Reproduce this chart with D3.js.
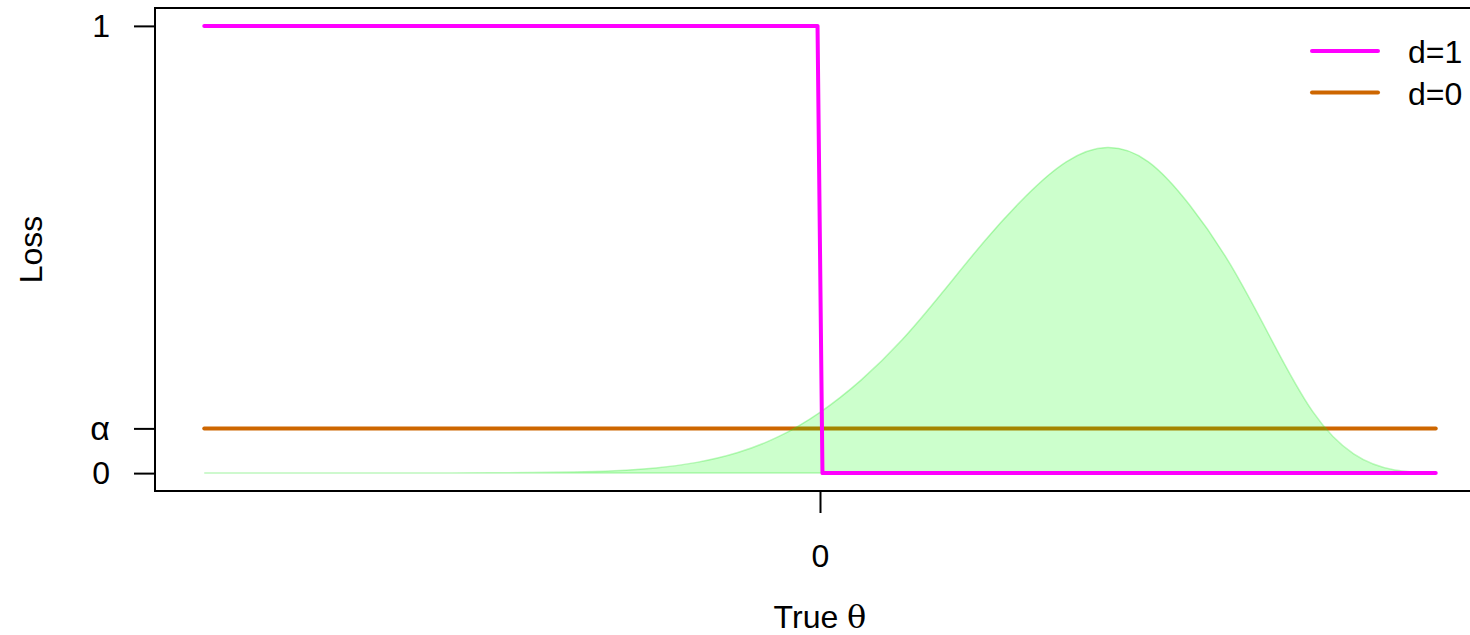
<!DOCTYPE html>
<html>
<head>
<meta charset="utf-8">
<script src="https://cdn.jsdelivr.net/npm/d3@7"></script>
<style>
  html, body { margin: 0; padding: 0; background: #fff; overflow: hidden; }
  svg { display: block; }
  text { font-family: "Liberation Sans", Arial, Helvetica, sans-serif; fill: #000; }
</style>
</head>
<body>
<svg id="chart" width="1470" height="635"></svg>
<script>
// Loss of each decision as a function of the true parameter
const alpha = 0.1;
const thetaRange = [-3, 3];
const lossD1Theta = [-3, -0.012, 0.012, 3];
const lossD1Value = [1, 1, 0, 0];
const lossD0Theta = [-3, 3];
const lossD0Value = [alpha, alpha];

// Posterior density (scaled to the loss axis), sampled along theta
const densTheta = [-3.0, -2.8, -2.6, -2.4, -2.2, -2.0, -1.8, -1.6, -1.4, -1.2, -1.0, -0.8, -0.6, -0.4, -0.2, 0.0,
  0.2, 0.4, 0.6, 0.8, 1.0, 1.2, 1.4, 1.6, 1.8, 2.0, 2.2, 2.4, 2.6, 2.8, 3.0];
const densValue = [0.0, 0.0, 0.0, 0.0, 0.00005, 0.0001, 0.00025, 0.00055, 0.0012, 0.0026, 0.0055, 0.0115, 0.024, 0.046, 0.082, 0.136,
  0.208, 0.298, 0.406, 0.518, 0.618, 0.696, 0.728, 0.696, 0.600, 0.466, 0.298, 0.138, 0.043, 0.007, 0.0];

// Tick labels
const yTickValues = [0, alpha, 1];
const yTickLabels = ["0", "\u03b1", "1"];
const xTickValues = [0];
const xTickLabels = ["0"];

const legendLabels = ["d=1", "d=0"];
const legendColors = ["#ff00ff", "#cd6600"];

const svg = d3.select("#chart");

// Plot region (4% padding on both axes)
const plotL = 155, plotR = 1485, plotT = 8, plotB = 491;
const xPad = (thetaRange[1] - thetaRange[0]) * 0.04;
const x = d3.scaleLinear()
  .domain([thetaRange[0] - xPad, thetaRange[1] + xPad])
  .range([plotL, plotR]);
const y = d3.scaleLinear()
  .domain([-0.04, 1.04])
  .range([plotB, plotT]);

const line = d3.line().x(d => x(d[0])).y(d => y(d[1]));

// d=0 loss (drawn first, sits beneath the density)
svg.append("path")
  .datum(d3.zip(lossD0Theta, lossD0Value))
  .attr("d", line)
  .attr("fill", "none")
  .attr("stroke", legendColors[1])
  .attr("stroke-width", 4)
  .attr("stroke-linecap", "round");

// Density polygon, translucent green
const densPts = d3.zip(densTheta, densValue);
const area = d3.area()
  .x(d => x(d[0]))
  .y0(y(0))
  .y1(d => y(d[1]))
  .curve(d3.curveNatural);
svg.append("path")
  .datum(densPts)
  .attr("d", area)
  .attr("fill", "rgba(0,255,0,0.2)")
  .attr("stroke", "rgba(40,230,40,0.3)")
  .attr("stroke-width", 1.5);

// d=1 loss (step)
svg.append("path")
  .datum(d3.zip(lossD1Theta, lossD1Value))
  .attr("d", line)
  .attr("fill", "none")
  .attr("stroke", legendColors[0])
  .attr("stroke-width", 4)
  .attr("stroke-linecap", "round")
  .attr("stroke-linejoin", "round");

// Frame
svg.append("rect")
  .attr("x", plotL).attr("y", plotT)
  .attr("width", plotR - plotL).attr("height", plotB - plotT)
  .attr("fill", "none")
  .attr("stroke", "#000")
  .attr("stroke-width", 2);

// Axes
const yAxis = d3.axisLeft(y)
  .tickValues(yTickValues)
  .tickFormat((d, i) => yTickLabels[i])
  .tickSizeOuter(0)
  .tickSize(21)
  .tickPadding(24);
const gy = svg.append("g").attr("transform", `translate(${plotL},0)`).call(yAxis);
gy.select(".domain").remove();
gy.selectAll("line").attr("stroke", "#000").attr("stroke-width", 2);
gy.selectAll("text")
  .attr("font-size", 32)
  .attr("font-family", "Liberation Sans, Arial, sans-serif")
  .attr("fill", "#000");
gy.selectAll("text").filter((d, i) => yTickLabels[i] === "\u03b1")
  .attr("font-family", "DejaVu Serif, Liberation Serif, serif")
  .attr("font-size", 34);

const xAxis = d3.axisBottom(x)
  .tickValues(xTickValues)
  .tickFormat((d, i) => xTickLabels[i])
  .tickSizeOuter(0)
  .tickSize(22)
  .tickPadding(31);
const gx = svg.append("g").attr("transform", `translate(0,${plotB})`).call(xAxis);
gx.select(".domain").remove();
gx.selectAll("line").attr("stroke", "#000").attr("stroke-width", 2);
gx.selectAll("text")
  .attr("font-size", 32)
  .attr("font-family", "Liberation Sans, Arial, sans-serif")
  .attr("fill", "#000");

// Axis titles
const xt = svg.append("text")
  .attr("x", x(0)).attr("y", 628)
  .attr("text-anchor", "middle")
  .attr("font-size", 32);
xt.append("tspan").text("True ");
xt.append("tspan").attr("font-family", "DejaVu Serif, Liberation Serif, serif").text("\u03b8");

svg.append("text")
  .attr("transform", `translate(42,${(plotT + plotB) / 2}) rotate(-90)`)
  .attr("text-anchor", "middle")
  .attr("font-size", 32)
  .text("Loss");

// Legend
const legend = svg.append("g");
legendLabels.forEach((lab, i) => {
  const ly = 51 + i * 41.5;
  legend.append("line")
    .attr("x1", 1312).attr("x2", 1378)
    .attr("y1", ly).attr("y2", ly)
    .attr("stroke", legendColors[i])
    .attr("stroke-width", 4)
    .attr("stroke-linecap", "round");
  legend.append("text")
    .attr("x", 1408).attr("y", ly + 12)
    .attr("font-size", 32)
    .text(lab);
});
</script>
</body>
</html>
